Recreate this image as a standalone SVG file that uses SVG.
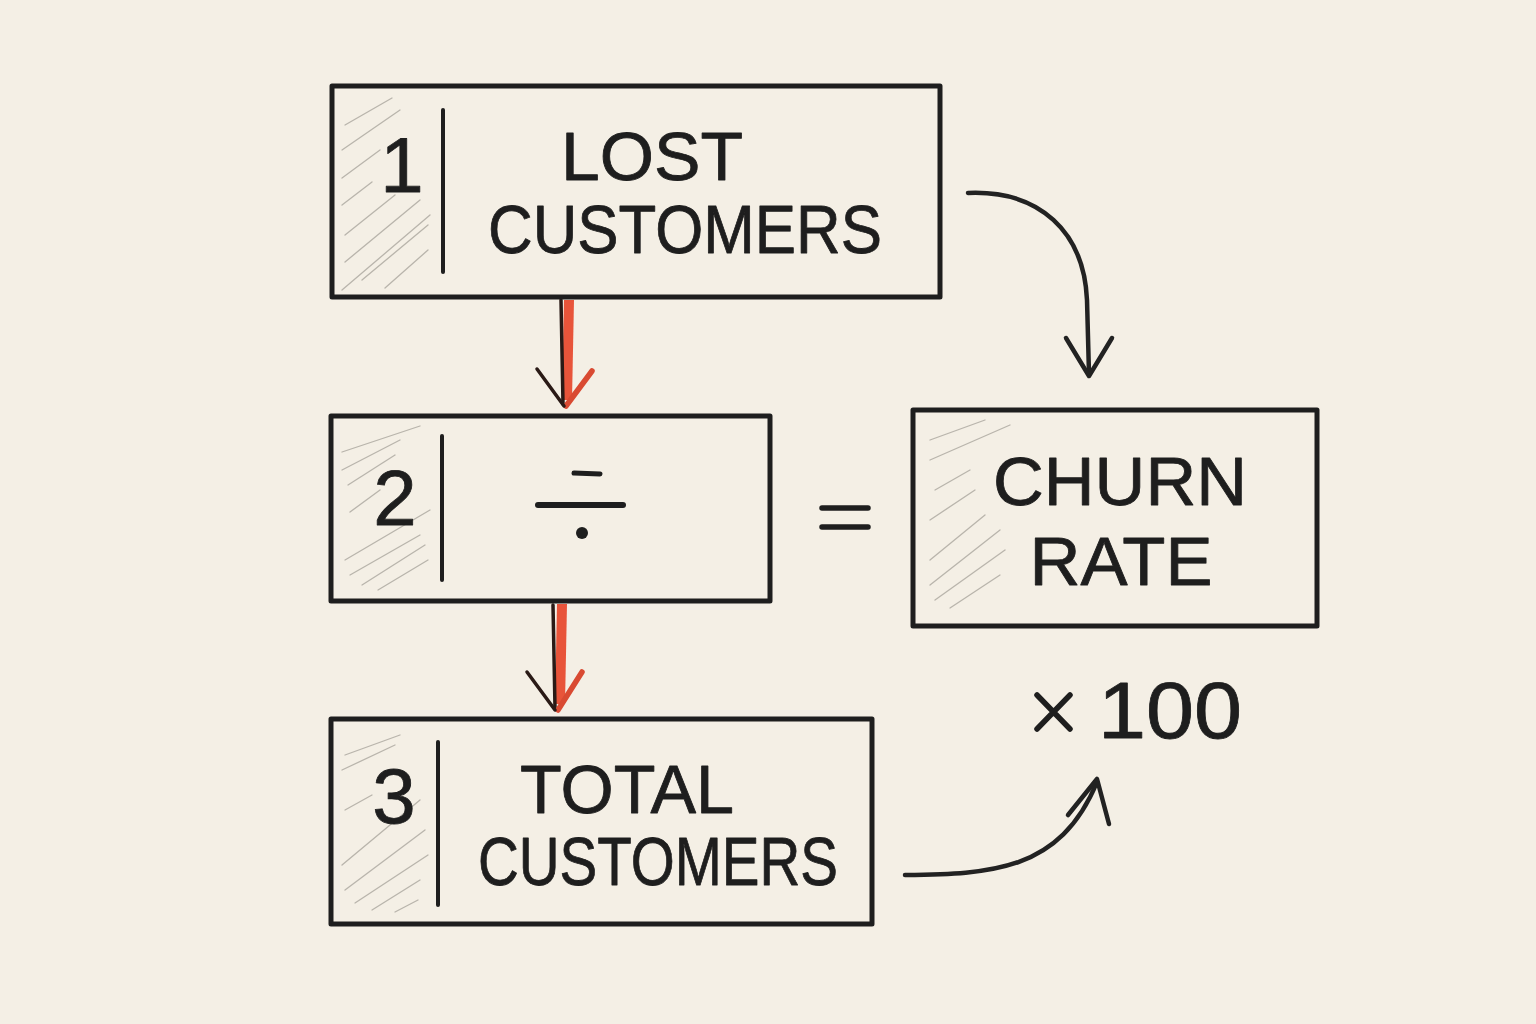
<svg xmlns="http://www.w3.org/2000/svg" width="1536" height="1024" viewBox="0 0 1536 1024">
<defs>
<style>
.box{fill:none;stroke:#1e1e1e;stroke-width:5;stroke-linejoin:round}
.div{stroke:#1e1e1e;stroke-width:4;stroke-linecap:round}
.hatch{stroke:#9a968e;stroke-width:1.3;stroke-linecap:round;opacity:0.65}
.t{font-family:"Liberation Sans","DejaVu Sans",sans-serif;fill:#1e1e1e;stroke:#1e1e1e;stroke-width:0.8;stroke-linejoin:round}
.ink{fill:none;stroke:#222;stroke-width:4.5;stroke-linecap:round;stroke-linejoin:round}
.red{fill:none;stroke:#e8543a;stroke-width:10;stroke-linecap:butt}
.redthin{fill:none;stroke:#d94a32;stroke-width:5.5;stroke-linecap:round}
.blk{fill:none;stroke:#2a1a16;stroke-width:3.5;stroke-linecap:round}
</style>
</defs>
<rect width="1536" height="1024" fill="#f4efe5"/>

<g id="connectors">
  <g id="red1">
    <path class="red" d="M569,300 L567,400"/>
    <path class="blk" d="M561,300 L563,404"/>
    <path class="redthin" d="M592,371 L566,406"/>
    <path class="blk" d="M537,369 L564,406"/>
  </g>
  <g id="red2">
    <path class="red" d="M562,604 L560,704"/>
    <path class="blk" d="M553,605 L555,708"/>
    <path class="redthin" d="M582,672 L558,710"/>
    <path class="blk" d="M527,672 L555,710"/>
  </g>
  <g id="arrow-churn">
    <path class="ink" d="M968,193 C1040,190 1084,232 1087,300 L1089,374"/>
    <path class="ink" d="M1066,338 L1089,376 L1112,338"/>
  </g>
  <g id="arrow-x100">
    <path class="ink" d="M905,875 C990,874 1060,872 1097,782"/>
    <path class="ink" d="M1068,815 L1097,779 L1109,824"/>
  </g>
</g>

<g id="node1">
  <rect class="box" x="332" y="86" width="608" height="211"/>
  <g class="hatch">
    <path d="M345,125 L392,98"/><path d="M342,150 L400,110"/><path d="M342,178 L380,150"/>
    <path d="M342,205 L372,182"/><path d="M345,235 L395,195"/><path d="M345,262 L420,200"/>
    <path d="M362,280 L428,225"/><path d="M385,288 L428,250"/><path d="M342,290 L430,215"/>
  </g>
  <path class="div" d="M443,110 L443,272"/>
  <text class="t" x="402" y="192" font-size="78" text-anchor="middle">1</text>
  <text class="t" x="652" y="180" font-size="68" text-anchor="middle" textLength="182" lengthAdjust="spacingAndGlyphs">LOST</text>
  <text class="t" x="685" y="253" font-size="68" text-anchor="middle" textLength="394" lengthAdjust="spacingAndGlyphs">CUSTOMERS</text>
</g>

<g id="node2">
  <rect class="box" x="331" y="416" width="439" height="185"/>
  <g class="hatch">
    <path d="M342,452 L420,426"/><path d="M342,470 L400,440"/><path d="M348,485 L395,455"/>
    <path d="M350,512 L380,490"/><path d="M345,560 L430,510"/><path d="M350,575 L420,535"/>
    <path d="M362,585 L425,545"/><path d="M378,590 L428,560"/>
  </g>
  <path class="div" d="M442,436 L442,580"/>
  <text class="t" x="395" y="525" font-size="78" text-anchor="middle">2</text>
  <path d="M538,505 L623,505" stroke="#1e1e1e" stroke-width="6" stroke-linecap="round"/>
  <path d="M574,473 L600,474" stroke="#1e1e1e" stroke-width="5" stroke-linecap="round"/>
  <circle cx="582" cy="533" r="6" fill="#1e1e1e"/>
</g>

<g id="equals">
  <path d="M822,508 L868,508 M822,527 L868,527" stroke="#1e1e1e" stroke-width="5.5" stroke-linecap="round"/>
</g>

<g id="node3">
  <rect class="box" x="331" y="719" width="541" height="205"/>
  <g class="hatch">
    <path d="M345,755 L400,735"/><path d="M342,770 L395,745"/><path d="M345,810 L372,795"/>
    <path d="M342,865 L420,800"/><path d="M345,890 L425,830"/><path d="M355,903 L428,855"/>
    <path d="M372,910 L420,880"/><path d="M395,912 L418,900"/>
  </g>
  <path class="div" d="M438,742 L438,905"/>
  <text class="t" x="394" y="823" font-size="78" text-anchor="middle">3</text>
  <text class="t" x="627" y="813" font-size="68" text-anchor="middle" textLength="214" lengthAdjust="spacingAndGlyphs">TOTAL</text>
  <text class="t" x="658" y="885" font-size="68" text-anchor="middle" textLength="360" lengthAdjust="spacingAndGlyphs">CUSTOMERS</text>
</g>

<g id="node4">
  <rect class="box" x="913" y="410" width="404" height="216"/>
  <g class="hatch">
    <path d="M930,440 L985,420"/><path d="M930,460 L1010,425"/><path d="M935,490 L970,470"/>
    <path d="M930,520 L975,490"/><path d="M930,560 L985,515"/><path d="M930,585 L1000,530"/>
    <path d="M935,600 L1005,550"/><path d="M950,608 L1000,575"/>
  </g>
  <text class="t" x="1120" y="505" font-size="68" text-anchor="middle" textLength="254" lengthAdjust="spacingAndGlyphs">CHURN</text>
  <text class="t" x="1121" y="585" font-size="68" text-anchor="middle" textLength="183" lengthAdjust="spacingAndGlyphs">RATE</text>
</g>

<g id="times100">
  <path d="M1037,695 L1070,729 M1070,695 L1037,729" stroke="#1e1e1e" stroke-width="5.5" stroke-linecap="round"/>
  <text class="t" x="1170" y="738" font-size="80" text-anchor="middle" textLength="144" lengthAdjust="spacingAndGlyphs">100</text>
</g>
</svg>
